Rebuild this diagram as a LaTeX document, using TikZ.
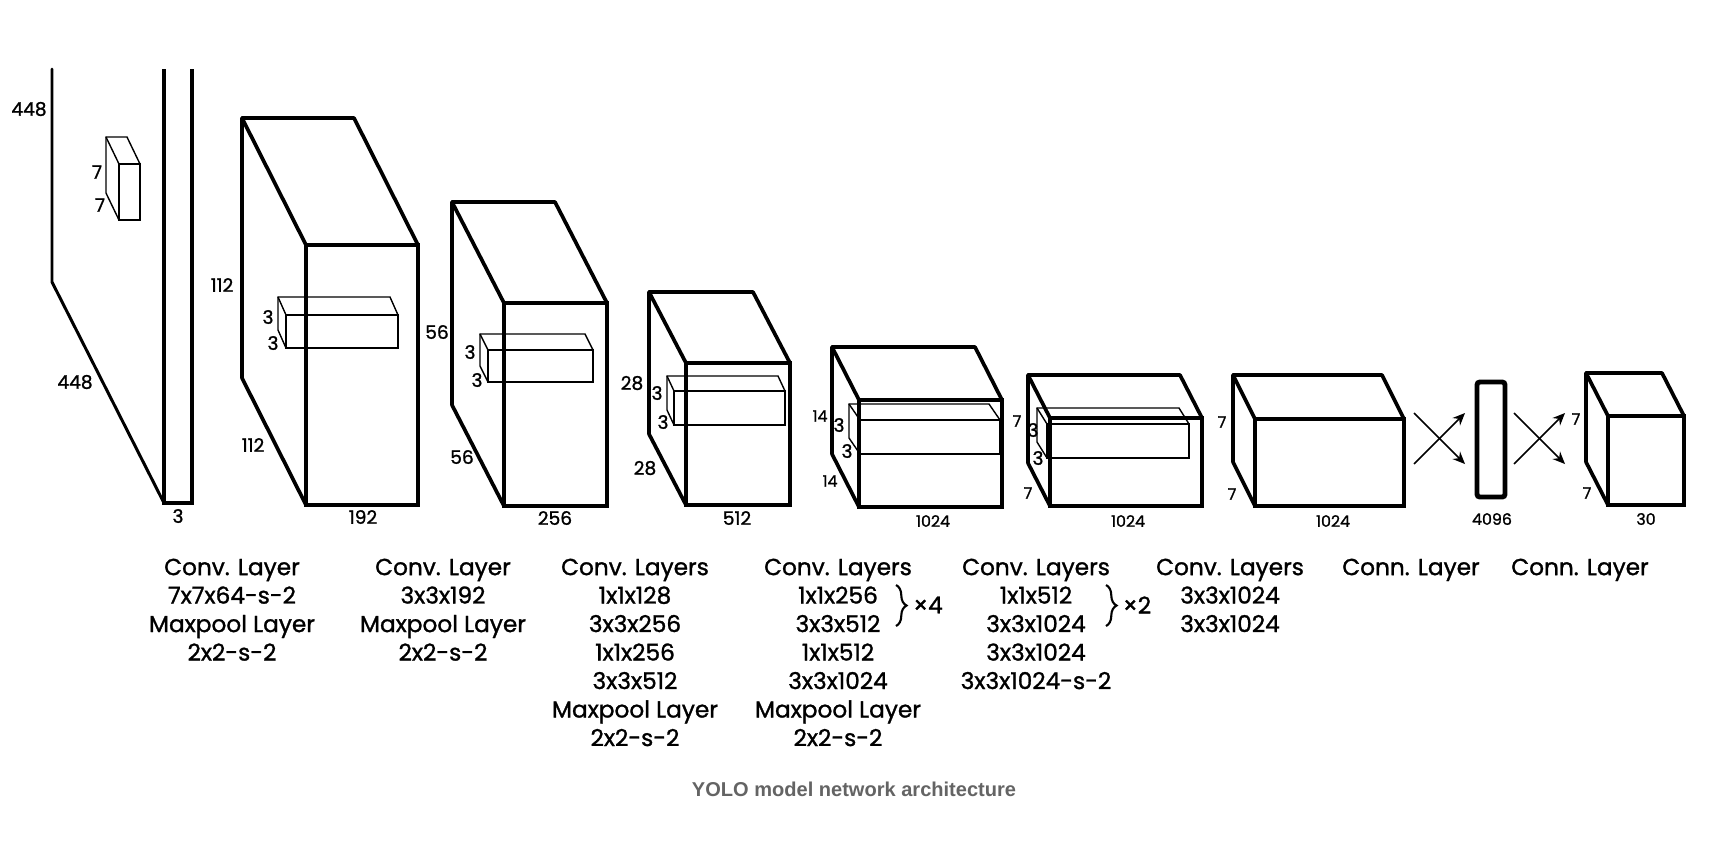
\documentclass[tikz,border=0pt]{standalone}
\usepackage{fontspec}
\setmainfont{Poppins}[FakeBold=1.2]
\newfontfamily\capfont{Liberation Sans}
\usetikzlibrary{arrows.meta,decorations.pathreplacing}
\definecolor{capgray}{RGB}{100,100,100}
\tikzset{
  edge/.style={line width=1.05pt, line join=round, line cap=round},
  frontface/.style={line width=1.25pt, line join=miter},
  kern/.style={line width=0.4pt},
  dim/.style={font=\fontsize{5.3pt}{6pt}\selectfont, inner sep=0pt},
  dimsmall/.style={font=\fontsize{4.5pt}{5pt}\selectfont, inner sep=0pt},
  lbl/.style={font=\fontsize{6.6pt}{8.1pt}\selectfont, align=center, anchor=north, inner sep=0pt},
  arr/.style={line width=0.45pt, -{Stealth[length=3.5pt,width=3pt]}},
  fcbar/.style={line width=1.4pt, rounded corners=0.8pt},
  brc/.style={decorate, decoration={brace, amplitude=3pt}, line width=0.6pt},
  captext/.style={font=\capfont\bfseries\fontsize{5.7pt}{7pt}\selectfont, text=capgray, inner sep=0pt},
}
% #1 x1, #2 y1, #3 x2, #4 y2 (front face), #5 dx, #6 dy (to back), #7 edge style, #8 front style
\newcommand{\ycube}[8]{%
  \draw[#7] (#1+#5,#4+#6) -- (#1+#5,#2+#6) -- (#3+#5,#2+#6) -- (#3,#2);
  \draw[#7] (#1+#5,#2+#6) -- (#1,#2);
  \draw[#7] (#1+#5,#4+#6) -- (#1,#4);
  \draw[#8] (#1,#2) rectangle (#3,#4);
}
\begin{document}
\begin{tikzpicture}[x=0.01cm, y=-0.01cm]
\useasboundingbox[fill=white] (0,0) rectangle (1734,853);

% input layer
\draw[edge, line width=0.85pt] (52,69) -- (52,282) -- (164,503);
\draw[frontface, line width=1.15pt] (164,69) -- (164,503) -- (192,503) -- (192,69);
\ycube{119}{164}{140}{220}{-13}{-27}{kern}{kern}
\node[dim] (i448a) at (29,109) {448};
\node[dim] (i448b) at (75,382) {448};
\node[dim] (i3) at (178,516) {3};
\node[dim] (i7a) at (97,172) {7};
\node[dim] (i7b) at (100,205) {7};

% layer 2
\ycube{306}{245}{418}{505}{-64}{-127}{edge}{frontface}
\ycube{286}{315}{398}{348}{-8}{-18}{kern}{kern}
\node[dim] (l2a) at (222,285) {112};
\node[dim] (l2b) at (253,445) {112};
\node[dim] (l2c) at (363,517) {192};
\node[dim] (l2k1) at (268,317) {3};
\node[dim] (l2k2) at (273,343) {3};

% layer 3
\ycube{504}{303}{607}{506}{-52}{-101}{edge}{frontface}
\ycube{488}{350}{593}{382}{-8}{-16}{kern}{kern}
\node[dim] (l3a) at (437,332) {56};
\node[dim] (l3b) at (462,457) {56};
\node[dim] (l3c) at (555,518) {256};
\node[dim] (l3k1) at (470,352) {3};
\node[dim] (l3k2) at (477,380) {3};

% layer 4
\ycube{686}{363}{790}{505}{-37}{-71}{edge}{frontface}
\ycube{674}{391}{785}{425}{-7}{-15}{kern}{kern}
\node[dim] (l4a) at (632,383) {28};
\node[dim] (l4b) at (645,468) {28};
\node[dim] (l4c) at (737,518) {512};
\node[dim] (l4k1) at (657,393) {3};
\node[dim] (l4k2) at (663,422) {3};

% layer 5
\ycube{859}{400}{1002}{507}{-27}{-53}{edge}{frontface}
\ycube{860}{420}{1000}{454}{-11}{-16}{kern}{kern}
\node[dimsmall] (l5a) at (820,416) {14};
\node[dimsmall] (l5b) at (830,481) {14};
\node[dimsmall] (l5c) at (933,521) {1024};
\node[dim] (l5k1) at (839,425) {3};
\node[dim] (l5k2) at (847,451) {3};

% layer 6
\ycube{1050}{418}{1202}{506}{-22}{-43}{edge}{frontface}
\ycube{1047}{424}{1189}{458}{-10}{-16}{kern}{kern}
\node[dimsmall] (l6a) at (1017,421) {7};
\node[dimsmall] (l6b) at (1028,493) {7};
\node[dimsmall] (l6c) at (1128,521) {1024};
\node[dim] (l6k1) at (1033,430) {3};
\node[dim] (l6k2) at (1038,458) {3};

% layer 7
\ycube{1255}{419}{1404}{506}{-22}{-44}{edge}{frontface}
\node[dimsmall] (l7a) at (1222,422) {7};
\node[dimsmall] (l7b) at (1232,494) {7};
\node[dimsmall] (l7c) at (1333,521) {1024};

% fully connected
\coordinate (a1s) at (1414,464); \coordinate (a1e) at (1465,413);
\coordinate (a2s) at (1414,413); \coordinate (a2e) at (1465,464);
\draw[arr] (a1s) -- (a1e);
\draw[arr] (a2s) -- (a2e);
\draw[fcbar] (1477,382) rectangle (1505,497);
\node[dimsmall] (fc) at (1492,519) {4096};
\coordinate (b1s) at (1514,464); \coordinate (b1e) at (1565,413);
\coordinate (b2s) at (1514,413); \coordinate (b2e) at (1565,464);
\draw[arr] (b1s) -- (b1e);
\draw[arr] (b2s) -- (b2e);

% output
\ycube{1608}{416}{1684}{505}{-22}{-43}{edge}{frontface}
\node[dimsmall] (o7a) at (1576,419) {7};
\node[dimsmall] (o7b) at (1587,493) {7};
\node[dimsmall] (o30) at (1646,519) {30};

% bottom labels
\node[lbl] (t1) at (232,558) {Conv. Layer\\7x7x64-s-2\\Maxpool Layer\\2x2-s-2};
\node[lbl] (t2) at (443,558) {Conv. Layer\\3x3x192\\Maxpool Layer\\2x2-s-2};
\node[lbl] (t3) at (635,558) {Conv. Layers\\1x1x128\\3x3x256\\1x1x256\\3x3x512\\Maxpool Layer\\2x2-s-2};
\node[lbl] (t4) at (838,558) {Conv. Layers\\1x1x256\\3x3x512\\1x1x512\\3x3x1024\\Maxpool Layer\\2x2-s-2};
\node[lbl] (t5) at (1036,558) {Conv. Layers\\1x1x512\\3x3x1024\\3x3x1024\\3x3x1024-s-2};
\node[lbl] (t6) at (1230,558) {Conv. Layers\\3x3x1024\\3x3x1024};
\node[lbl] (t7) at (1411,558) {Conn. Layer};
\node[lbl] (t8) at (1580,558) {Conn. Layer};

\draw[brc] (896,585) -- (896,626);
\node[lbl, anchor=center] (x4) at (928,605) {×4};
\draw[brc] (1106,585) -- (1106,626);
\node[lbl, anchor=center] (x2) at (1137,605) {×2};

\node[captext] (cap) at (854,789) {YOLO model network architecture};
\end{tikzpicture}
\end{document}
